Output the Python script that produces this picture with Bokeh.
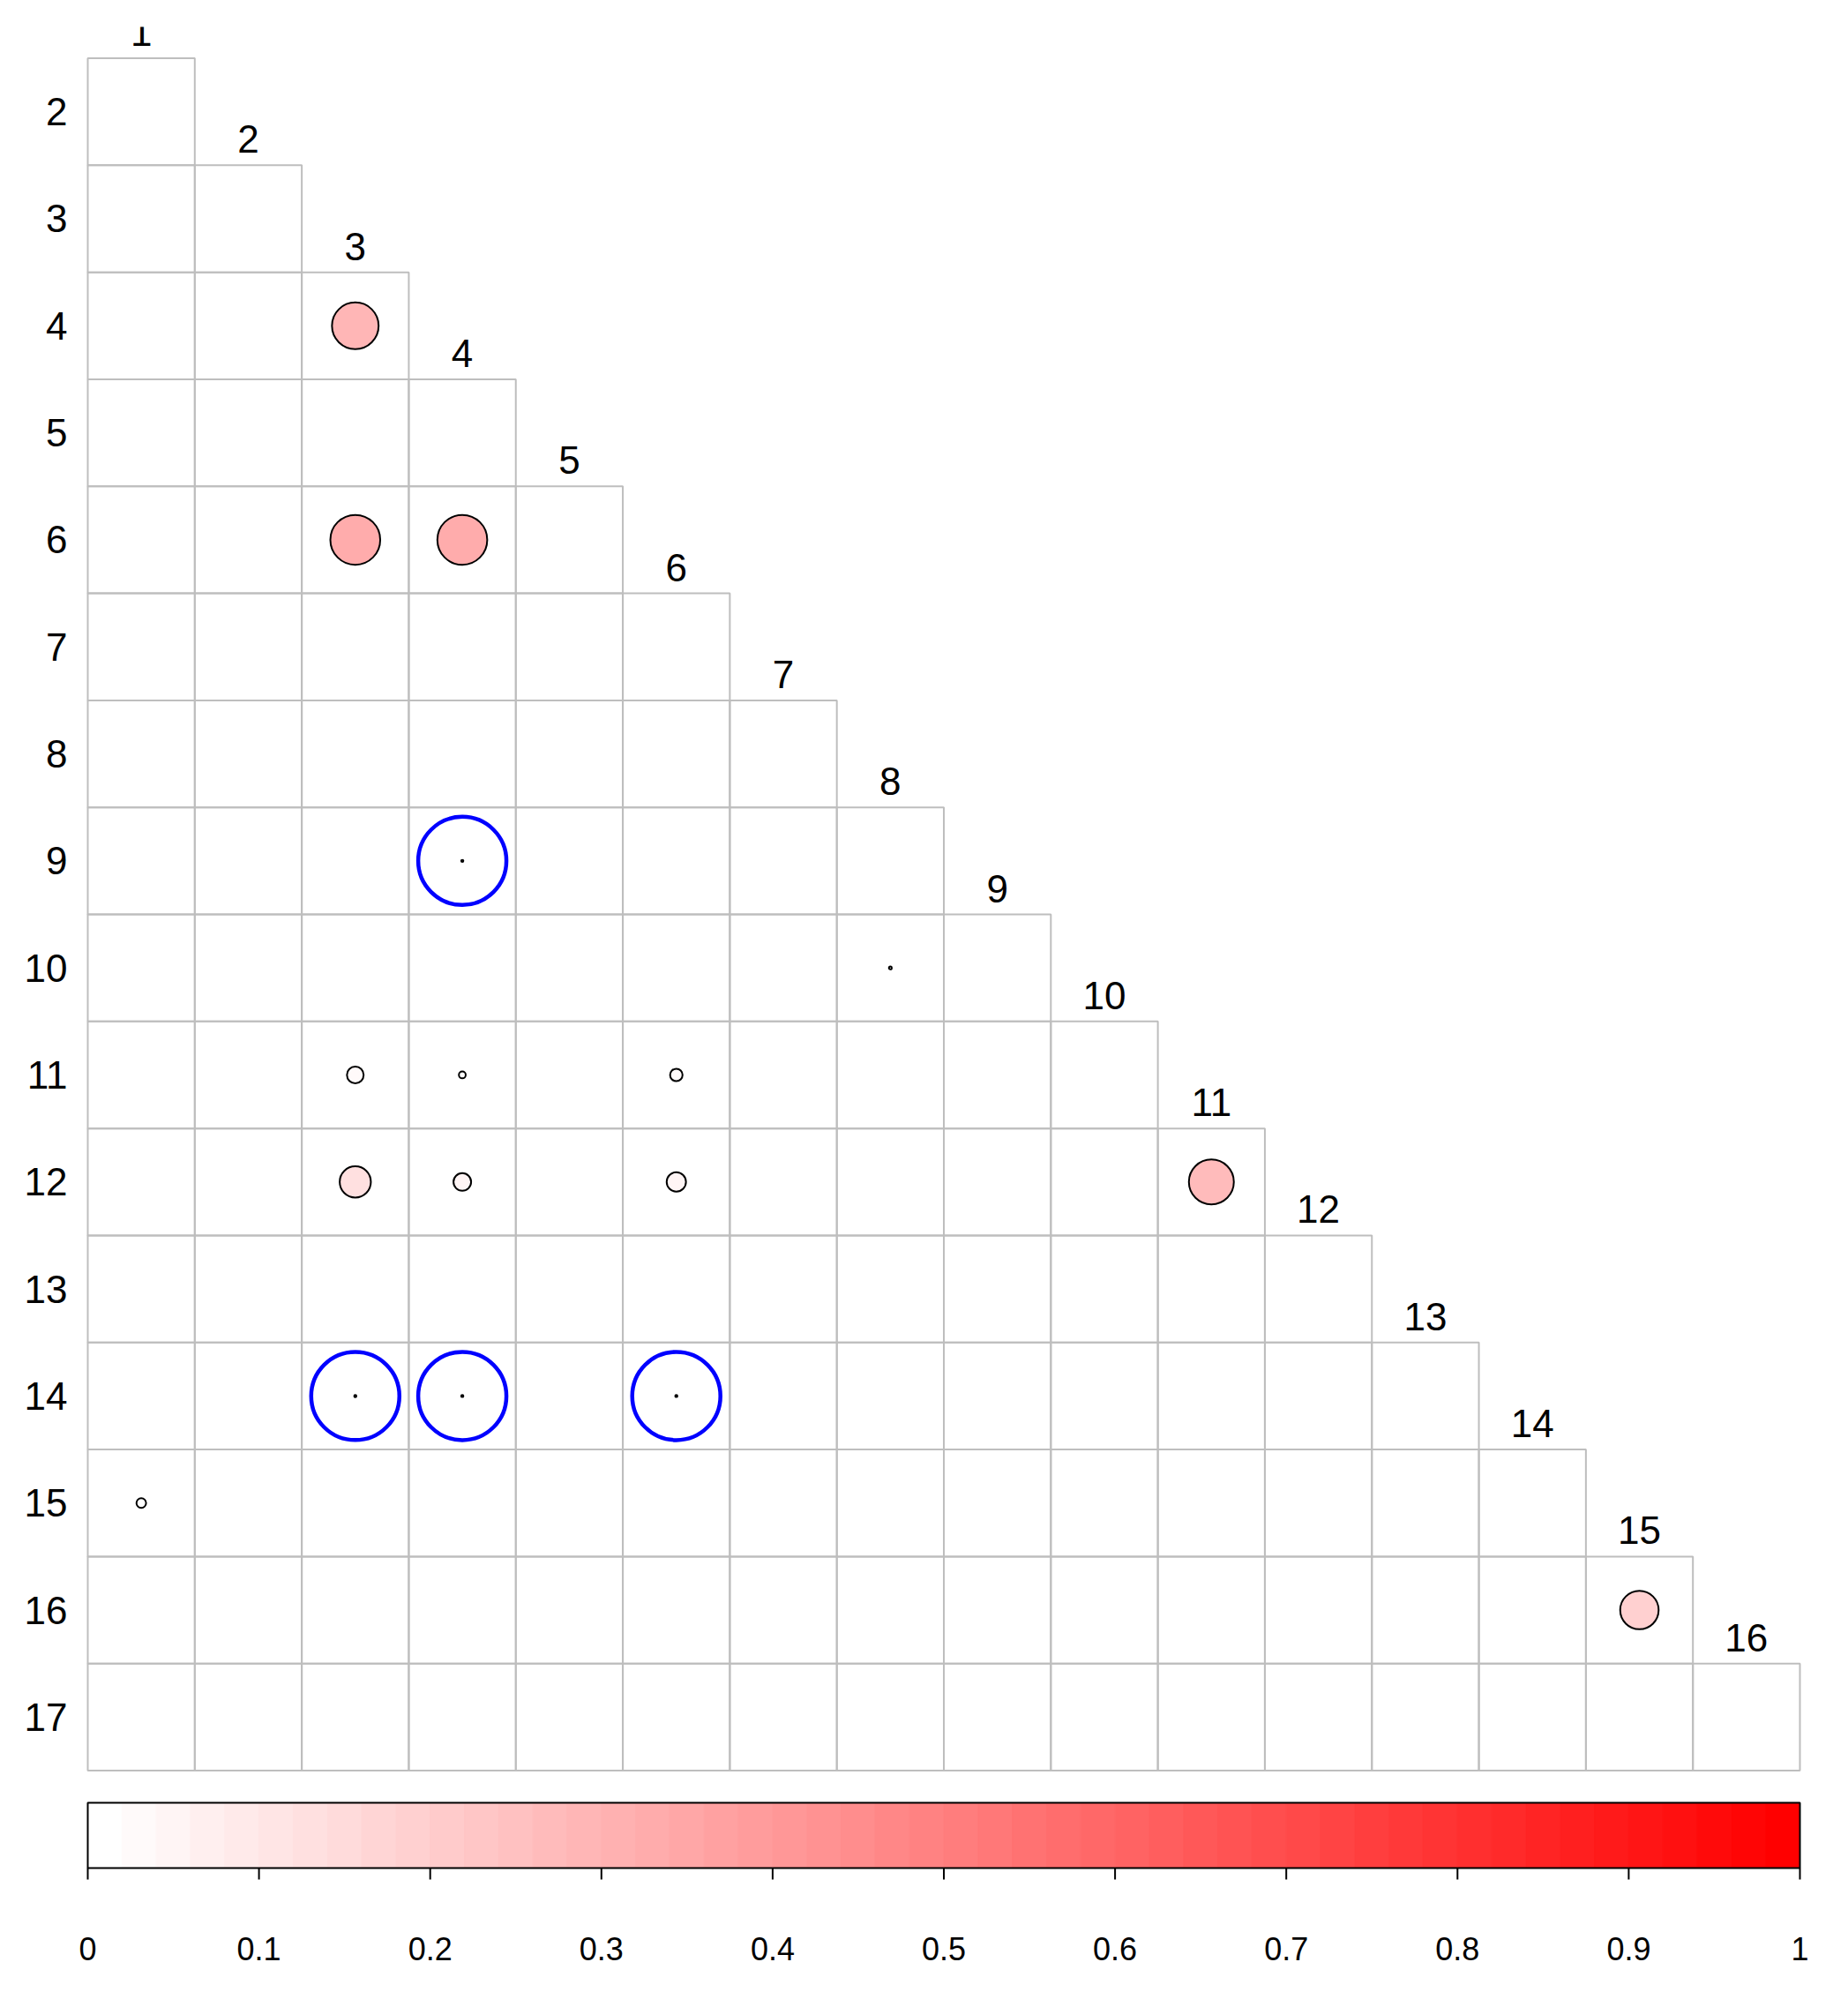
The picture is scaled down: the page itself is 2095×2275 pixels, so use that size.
import numpy as np
from bokeh.plotting import figure
from bokeh.models import Range1d, ColumnDataSource, LinearColorMapper
from bokeh.transform import transform
from bokeh.core.properties import value
from bokeh.embed import file_html
from bokeh.resources import INLINE

# ---------------- data ----------------
row_labels = ["2", "3", "4", "5", "6", "7", "8", "9", "10", "11", "12", "13", "14", "15", "16", "17"]
col_labels = ["1", "2", "3", "4", "5", "6", "7", "8", "9", "10", "11", "12", "13", "14", "15", "16"]

# filled circles: row, column, value (colour + area)
pt_rows = [4, 6, 6, 9, 10, 11, 11, 11, 12, 12, 12, 12, 14, 14, 14, 15, 16]
pt_cols = [3, 3, 4, 4, 8, 3, 4, 6, 3, 4, 6, 11, 3, 4, 6, 1, 15]
pt_values = [0.28, 0.32, 0.32, 0.0006, 0.001, 0.036, 0.006, 0.02, 0.125, 0.04, 0.048,
             0.26, 0.0006, 0.0006, 0.0006, 0.012, 0.19]

# blue rings
ring_rows = [9, 14, 14, 14]
ring_cols = [4, 3, 4, 6]

# colour bar ticks
cb_ticks = [0.0, 0.1, 0.2, 0.3, 0.4, 0.5, 0.6, 0.7, 0.8, 0.9, 1.0]
cb_tick_labels = ["0", "0.1", "0.2", "0.3", "0.4", "0.5", "0.6", "0.7", "0.8", "0.9", "1"]

# ---------------- styling / layout ----------------
N_COL = 50
palette = ["#%02x%02x%02x" % (255, int(round(255 * (1 - k / (N_COL - 1)))),
                               int(round(255 * (1 - k / (N_COL - 1))))) for k in range(N_COL)]
mapper = LinearColorMapper(palette=palette, low=0, high=1)

S = 121.3125          # pixels per cell
W, H = 2085, 2268
TOP = 30
x0 = -99.0 / S
x1 = x0 + W / S
ytop = 16 + 35.5 / S
ybot = ytop - (H - TOP) / S
nrow = len(row_labels)
ncol = len(col_labels)

p = figure(width=W, height=H, output_backend="svg", toolbar_location=None,
           x_range=Range1d(x0, x1), y_range=Range1d(ybot, ytop),
           min_border_left=0, min_border_right=0, min_border_top=TOP, min_border_bottom=0)
p.extra_x_ranges = {"cb": Range1d(x0 / ncol, x1 / ncol)}
p.axis.visible = False
p.xgrid.visible = False
p.ygrid.visible = False
p.outline_line_color = None
p.background_fill_color = "white"
p.border_fill_color = "white"

# cells of lower triangle
cl, cr, cb, ct = [], [], [], []
for lab in row_labels:
    i = int(lab)
    for lab2 in col_labels:
        j = int(lab2)
        if j < i:
            cl.append(j - 1); cr.append(j)
            cb.append(17 - i); ct.append(18 - i)
p.quad(left=cl, right=cr, bottom=cb, top=ct, fill_color=None,
       line_color="#BEBEBE", line_width=2)

# row labels
p.text(x=[-0.19] * nrow, y=[17.5 - int(r) for r in row_labels], text=row_labels,
       text_align="right", text_baseline="middle", text_color="black",
       text_font=value("Liberation Sans"), text_font_size="44px")

# diagonal (column) labels
p.text(x=[int(c) - 0.5 for c in col_labels], y=[17 - int(c) + 0.243 for c in col_labels],
       text=col_labels, text_align="center", text_baseline="middle", text_color="black",
       text_font=value("Liberation Sans"), text_font_size="44px")

# circles
RMAX = 0.412
src = ColumnDataSource(dict(
    x=[c - 0.5 for c in pt_cols],
    y=[17.5 - r for r in pt_rows],
    r=[RMAX * np.sqrt(v) for v in pt_values],
    v=pt_values,
))
p.circle(x="x", y="y", radius="r", source=src, fill_color=transform("v", mapper),
         line_color="black", line_width=2)

# blue rings
p.circle(x=[c - 0.5 for c in ring_cols], y=[17.5 - r for r in ring_rows], radius=RMAX,
         fill_color=None, line_color="#0000FF", line_width=4.5)

# colour bar
CB_TOP, CB_BOT = -0.3009, -0.9109
edges = [k / N_COL for k in range(N_COL + 1)]
p.quad(left=edges[:-1], right=edges[1:], bottom=CB_BOT, top=CB_TOP, fill_color=palette,
       line_color=palette, line_width=1, x_range_name="cb")
p.quad(left=[cb_ticks[0]], right=[cb_ticks[-1]], bottom=CB_BOT, top=CB_TOP, fill_color=None,
       line_color="black", line_width=2, x_range_name="cb")
p.segment(x0=cb_ticks, y0=[CB_BOT] * len(cb_ticks), x1=cb_ticks, y1=[CB_BOT - 0.107] * len(cb_ticks),
          line_color="black", line_width=2, x_range_name="cb")
p.text(x=cb_ticks, y=[-1.661] * len(cb_ticks), text=cb_tick_labels, text_align="center",
       text_baseline="middle", text_color="black",
       text_font=value("Liberation Sans"), text_font_size="36px", x_range_name="cb")

open("out.html", "w").write(file_html(p, INLINE))
